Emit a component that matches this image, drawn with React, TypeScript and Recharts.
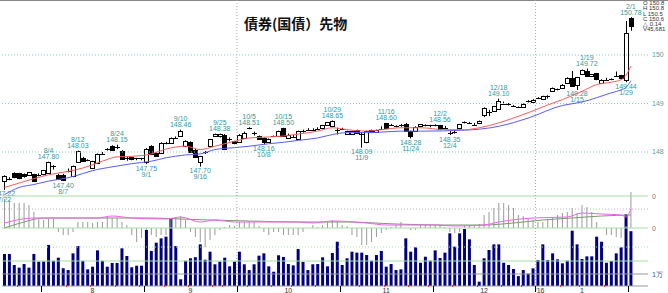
import React from 'react';
import { ComposedChart, Bar, Line, XAxis, YAxis, ReferenceLine, ReferenceDot } from 'recharts';

// trading days, 2015/07/22 .. 2016/02/01
const calendar: [number, number, number[]][] = [
  [2015, 7, [22, 23, 24, 27, 28, 29, 30, 31]],
  [2015, 8, [3, 4, 5, 6, 7, 10, 11, 12, 13, 14, 17, 18, 19, 20, 21, 24, 25, 26, 27, 28, 31]],
  [2015, 9, [1, 2, 3, 4, 7, 8, 9, 10, 11, 14, 15, 16, 17, 18, 24, 25, 28, 29, 30]],
  [2015, 10, [1, 2, 5, 6, 7, 8, 9, 13, 14, 15, 16, 19, 20, 21, 22, 23, 26, 27, 28, 29, 30]],
  [2015, 11, [2, 4, 5, 6, 9, 10, 11, 12, 13, 16, 17, 18, 19, 20, 24, 25, 26, 27, 30]],
  [2015, 12, [1, 2, 3, 4, 7, 8, 9, 10, 11, 14, 15, 16, 17, 18, 21, 22, 24, 25, 28, 29, 30]],
  [2016, 1, [4, 5, 6, 7, 8, 12, 13, 14, 15, 18, 19, 20, 21, 22, 25, 26, 27, 28, 29]],
  [2016, 2, [1]],
];
const monthLabels: Record<number, string> = { 8: '8', 9: '9', 10: '10', 11: '11', 12: '12', 1: '1' };
const yearLabel = "'16";

const opens = [
  147.40, 147.45, 147.56, 147.56, 147.54, 147.52, 147.54, 147.53, 147.54, 147.56,
  147.71, 147.52, 147.53, 147.60, 147.50, 147.80, 147.88, 147.83, 147.67, 147.78,
  147.95, 148.06, 148.13, 148.10, 148.02, 147.88, 147.89, 147.87, 147.87, 147.79,
  148.12, 147.97, 147.98, 148.19, 148.19, 148.28, 148.32, 148.12, 148.20, 148.05,
  147.79, 147.99, 148.12, 148.33, 148.33, 148.36, 148.27, 148.22, 148.22, 148.29,
  148.50, 148.39, 148.33, 148.29, 148.20, 148.32, 148.33, 148.49, 148.30, 148.31,
  148.27, 148.44, 148.46, 148.46, 148.48, 148.48, 148.55, 148.53, 148.46, 148.48,
  148.36, 148.36, 148.45, 148.38, 148.20, 148.45, 148.40, 148.48, 148.59, 148.55,
  148.53, 148.55, 148.57, 148.43, 148.43, 148.52, 148.55, 148.55, 148.55, 148.55,
  148.50, 148.40, 148.42, 148.48, 148.60, 148.60, 148.56, 148.60, 148.77, 148.83,
  148.84, 148.89, 149.00, 149.00, 148.95, 148.93, 148.93, 149.05, 149.03, 149.10,
  149.08, 149.15, 149.25, 149.30, 149.32, 149.43, 149.53, 149.37, 149.60, 149.68,
  149.56, 149.62, 149.43, 149.49, 149.50, 149.56, 149.58, 149.50, 150.76,
];
const highs = [
  147.52, 147.48, 147.58, 147.57, 147.56, 147.59, 147.55, 147.56, 147.63, 147.80,
  147.73, 147.55, 147.55, 147.66, 147.72, 148.03, 147.90, 147.85, 147.82, 147.97,
  148.00, 148.08, 148.14, 148.15, 148.04, 147.90, 147.90, 147.88, 147.88, 148.08,
  148.14, 147.99, 148.20, 148.21, 148.30, 148.32, 148.46, 148.24, 148.22, 148.07,
  147.92, 148.02, 148.27, 148.38, 148.38, 148.37, 148.30, 148.23, 148.37, 148.42,
  148.51, 148.42, 148.34, 148.30, 148.28, 148.34, 148.44, 148.50, 148.38, 148.35,
  148.44, 148.46, 148.49, 148.49, 148.51, 148.56, 148.62, 148.65, 148.50, 148.50,
  148.44, 148.44, 148.46, 148.41, 148.44, 148.46, 148.46, 148.53, 148.60, 148.58,
  148.55, 148.58, 148.60, 148.44, 148.53, 148.55, 148.57, 148.56, 148.57, 148.56,
  148.54, 148.44, 148.45, 148.58, 148.63, 148.62, 148.60, 148.65, 148.92, 148.87,
  148.95, 149.10, 149.04, 149.01, 148.97, 148.94, 149.00, 149.07, 149.09, 149.13,
  149.16, 149.17, 149.33, 149.31, 149.40, 149.54, 149.67, 149.55, 149.70, 149.72,
  149.61, 149.63, 149.50, 149.53, 149.52, 149.66, 149.59, 150.70, 150.78,
];
const lows = [
  147.22, 147.42, 147.46, 147.44, 147.47, 147.51, 147.38, 147.50, 147.52, 147.55,
  147.64, 147.42, 147.40, 147.58, 147.48, 147.79, 147.80, 147.81, 147.66, 147.76,
  147.94, 148.03, 148.04, 148.06, 147.84, 147.82, 147.83, 147.83, 147.83, 147.75,
  147.94, 147.90, 147.97, 148.16, 148.18, 148.27, 148.31, 148.10, 147.98, 147.89,
  147.70, 147.96, 148.11, 148.32, 148.30, 148.07, 148.22, 148.16, 148.21, 148.28,
  148.47, 148.34, 148.25, 148.16, 148.19, 148.31, 148.32, 148.32, 148.29, 148.30,
  148.26, 148.40, 148.45, 148.43, 148.47, 148.47, 148.54, 148.52, 148.36, 148.46,
  148.35, 148.35, 148.37, 148.09, 148.18, 148.39, 148.39, 148.47, 148.47, 148.54,
  148.51, 148.52, 148.42, 148.28, 148.42, 148.51, 148.53, 148.51, 148.53, 148.45,
  148.49, 148.35, 148.38, 148.47, 148.59, 148.58, 148.55, 148.59, 148.72, 148.74,
  148.83, 148.87, 148.99, 148.96, 148.93, 148.92, 148.92, 149.02, 149.02, 149.09,
  149.07, 149.10, 149.24, 149.27, 149.31, 149.42, 149.36, 149.28, 149.59, 149.57,
  149.55, 149.48, 149.40, 149.48, 149.48, 149.55, 149.50, 149.44, 150.50,
];
const closes = [
  147.50, 147.45, 147.47, 147.45, 147.49, 147.58, 147.40, 147.53, 147.62, 147.79,
  147.71, 147.43, 147.43, 147.61, 147.71, 148.02, 147.81, 147.83, 147.81, 147.96,
  147.95, 148.06, 148.05, 148.10, 147.85, 147.88, 147.84, 147.84, 147.85, 148.06,
  147.96, 147.91, 148.19, 148.19, 148.29, 148.28, 148.43, 148.22, 147.99, 147.90,
  147.91, 147.99, 148.26, 148.37, 148.37, 148.08, 148.27, 148.17, 148.36, 148.40,
  148.49, 148.39, 148.26, 148.20, 148.27, 148.32, 148.43, 148.33, 148.36, 148.31,
  148.43, 148.44, 148.46, 148.46, 148.48, 148.55, 148.61, 148.64, 148.46, 148.48,
  148.43, 148.43, 148.38, 148.38, 148.43, 148.40, 148.45, 148.48, 148.48, 148.55,
  148.53, 148.55, 148.43, 148.33, 148.52, 148.57, 148.55, 148.52, 148.55, 148.46,
  148.50, 148.40, 148.42, 148.57, 148.62, 148.60, 148.56, 148.64, 148.91, 148.83,
  148.94, 149.05, 149.00, 148.97, 148.95, 148.93, 148.99, 149.05, 149.08, 149.12,
  149.15, 149.15, 149.32, 149.28, 149.39, 149.53, 149.37, 149.54, 149.69, 149.58,
  149.60, 149.49, 149.49, 149.49, 149.50, 149.56, 149.51, 150.46, 150.60,
];
// volume, thousands of contracts
const volumes = [
  26.7, 26.7, 17.5, 15.3, 18.3, 15.3, 26.7, 20.3, 20.5, 34.2,
  21.0, 23.6, 14.7, 13.3, 27.2, 33.3, 21.0, 13.9, 16.1, 29.7,
  21.0, 16.1, 19.2, 19.2, 31.4, 25.0, 15.6, 16.9, 16.9, 46.7,
  29.2, 36.1, 39.7, 41.1, 56.4, 33.3, 5.6, 21.0, 23.1, 24.0,
  34.7, 21.9, 28.6, 18.1, 20.3, 23.6, 16.4, 20.3, 28.6, 18.1,
  13.3, 18.1, 25.3, 27.2, 16.4, 11.9, 25.6, 24.2, 18.3, 17.2,
  30.8, 20.0, 13.3, 18.1, 18.3, 23.9, 16.4, 27.5, 36.9, 17.5,
  23.1, 28.6, 27.8, 27.8, 25.8, 21.1, 25.8, 29.2, 16.1, 18.3,
  13.3, 13.9, 39.7, 28.6, 32.2, 19.4, 24.4, 21.1, 29.7, 23.3,
  27.8, 43.9, 32.8, 43.9, 47.5, 38.9, 17.5, 3.6, 23.1, 30.0,
  34.7, 34.7, 19.4, 17.5, 14.2, 8.3, 13.3, 10.3, 14.7, 21.7,
  34.7, 21.7, 27.2, 22.2, 18.9, 21.1, 46.1, 34.7, 22.5, 24.7,
  24.7, 41.1, 36.9, 19.4, 20.8, 27.2, 32.2, 59.7, 45.681,
];
// oscillator histogram
const histogram = [
  0.29, 0.28, 0.25, 0.25, 0.25, 0.23, 0.16, 0.09, 0.08, 0.09,
  0.09, -0.04, -0.07, -0.07, -0.04, 0.06, 0.06, 0.06, 0.05, 0.06,
  0.06, 0.11, 0.10, 0.10, 0.06, 0.03, -0.07, -0.14, -0.10, -0.02,
  -0.07, -0.09, -0.07, -0.07, 0.10, 0.10, 0.12, 0.08, -0.04, -0.09,
  -0.14, -0.19, -0.12, -0.07, -0.02, 0.01, 0.03, 0.02, 0.06, 0.06,
  0.06, 0.06, 0.02, -0.04, -0.07, -0.04, -0.04, -0.07, -0.07, -0.07,
  -0.07, -0.04, 0.00, 0.03, 0.01, 0.03, 0.06, 0.08, 0.06, 0.03,
  0.02, -0.07, -0.09, -0.17, -0.17, -0.14, -0.09, -0.05, -0.02, 0.01,
  0.03, 0.06, 0.00, -0.02, -0.02, 0.03, 0.03, 0.03, 0.03, 0.03,
  0.01, -0.04, -0.05, -0.04, 0.02, 0.03, 0.03, 0.04, 0.13, 0.16,
  0.20, 0.25, 0.25, 0.23, 0.20, 0.13, 0.12, 0.10, 0.08, 0.06,
  0.06, 0.09, 0.11, 0.13, 0.15, 0.16, 0.20, 0.15, 0.23, 0.21,
  0.16, 0.06, 0.00, -0.07, -0.07, -0.09, -0.10, 0.02, 0.36,
];
// moving averages, read at [bar, value]
const maShort: [number, number][] = [
  [0, 147.27], [3, 147.36], [6, 147.45], [9, 147.53], [13, 147.60], [16, 147.67], [20, 147.81],
  [23, 147.90], [26, 147.91], [30, 147.96], [33, 148.06], [37, 148.12], [40, 148.05], [43, 148.12],
  [47, 148.22], [50, 148.29], [54, 148.31], [57, 148.33], [60, 148.37], [64, 148.43], [67, 148.50],
  [70, 148.46], [74, 148.43], [77, 148.46], [81, 148.50], [85, 148.50], [90, 148.46], [94, 148.46],
  [97, 148.50], [101, 148.60], [104, 148.70], [107, 148.81], [111, 148.97], [114, 149.08],
  [118, 149.25], [121, 149.39], [124, 149.44], [126, 149.49], [127, 149.58], [128, 149.77],
];
const maLong: [number, number][] = [
  [0, 147.12], [3, 147.27], [6, 147.33], [9, 147.40], [13, 147.47], [19, 147.64], [23, 147.71],
  [26, 147.76], [30, 147.81], [33, 147.88], [37, 147.94], [40, 147.96], [43, 148.05], [47, 148.09],
  [50, 148.12], [54, 148.17], [57, 148.20], [60, 148.24], [64, 148.29], [67, 148.36], [70, 148.40],
  [74, 148.40], [77, 148.41], [81, 148.43], [85, 148.43], [94, 148.45], [101, 148.53], [107, 148.70],
  [114, 148.96], [118, 149.03], [121, 149.12], [124, 149.22], [126, 149.28], [127, 149.33], [128, 149.47],
];
const oscLine: [number, number][] = [
  [0, 0.05], [6, 0.10], [19, 0.10], [22, 0.12], [26, 0.10], [33, 0.09], [36, 0.11], [40, 0.06],
  [43, 0.08], [47, 0.06], [54, 0.06], [60, 0.06], [63, 0.05], [67, 0.07], [74, 0.05], [78, 0.03],
  [81, 0.03], [88, 0.03], [92, 0.02], [98, 0.03], [101, 0.06], [108, 0.10], [115, 0.11], [118, 0.15],
  [122, 0.14], [126, 0.13], [127, 0.11], [128, 0.19],
];
const oscSignal: [number, number][] = [
  [0, 0.0], [4, 0.06], [8, 0.10], [15, 0.10], [22, 0.10], [30, 0.10], [36, 0.09], [42, 0.08],
  [50, 0.07], [60, 0.06], [70, 0.06], [80, 0.04], [90, 0.03], [98, 0.03], [104, 0.05], [110, 0.08],
  [116, 0.10], [122, 0.12], [128, 0.13],
];
// highs / lows marked on the chart
const marks: [number, number, string, 'hi' | 'lo'][] = [
  [0, 147.22, '7/22', 'lo'], [9, 147.80, '8/4', 'hi'], [12, 147.40, '8/7', 'lo'],
  [15, 148.03, '8/12', 'hi'], [23, 148.15, '8/24', 'hi'], [29, 147.75, '9/1', 'lo'],
  [36, 148.46, '9/10', 'hi'], [40, 147.70, '9/16', 'lo'], [44, 148.38, '9/25', 'hi'],
  [50, 148.51, '10/5', 'hi'], [53, 148.16, '10/8', 'lo'], [57, 148.50, '10/15', 'hi'],
  [67, 148.65, '10/29', 'hi'], [73, 148.09, '11/9', 'lo'], [78, 148.60, '11/16', 'hi'],
  [83, 148.28, '11/24', 'lo'], [89, 148.56, '12/2', 'hi'], [91, 148.35, '12/4', 'lo'],
  [101, 149.10, '12/18', 'hi'], [117, 149.28, '1/15', 'lo'], [119, 149.72, '1/19', 'hi'],
  [127, 149.44, '1/29', 'lo'], [128, 150.78, '2/1', 'hi'],
];
const priceTicks = [148, 149, 150];
const lastInfo = ['O 150.8', 'H 150.8', 'L 150.5', 'C 150.6', '△ 0.14', 'V45,681'];

const W = 668;
const H = 293;
const TEAL = '#339999';
const FONT = '"Liberation Sans", Arial, sans-serif';

const days: { y: number; m: number; d: number }[] = [];
calendar.forEach(([y, m, ds]) => ds.forEach((d) => days.push({ y, m, d })));
const N = days.length;

const shortMap = new Map(maShort);
const longMap = new Map(maLong);
const oscMap = new Map(oscLine);
const sigMap = new Map(oscSignal);

const monthRange: Record<string, number[]> = {};
days.forEach((dd, i) => {
  const key = `${dd.y}-${dd.m}`;
  (monthRange[key] = monthRange[key] || []).push(i);
});

// 3 empty slots on the right so the grid runs on past the last bar
const rows = Array.from({ length: N + 3 }, (_, i) => {
  if (i >= N) return { i };
  const dd = days[i];
  const prev = days[i - 1];
  const t = new Date(dd.y, dd.m - 1, dd.d);
  let weekStart = false;
  if (prev) {
    const tp = new Date(prev.y, prev.m - 1, prev.d);
    weekStart = t.getDay() <= tp.getDay() || (t.getTime() - tp.getTime()) / 864e5 >= 7;
  }
  const idxs = monthRange[`${dd.y}-${dd.m}`];
  const mid = idxs[Math.floor(idxs.length / 2)];
  return {
    i,
    o: opens[i],
    h: highs[i],
    l: lows[i],
    c: closes[i],
    vol: volumes[i],
    hist: histogram[i],
    maS: shortMap.get(i) ?? null,
    maL: longMap.get(i) ?? null,
    osc: oscMap.get(i) ?? null,
    sig: sigMap.get(i) ?? null,
    monthStart: !!prev && prev.m !== dd.m,
    weekStart,
    label: i === mid && monthLabels[dd.m] ? monthLabels[dd.m] : '',
    yearMark: dd.m === 1 && idxs[0] === i,
  };
});

const Candle = (p: any) => {
  const { x, y, width, height, payload } = p;
  if (!payload || payload.o == null || !isFinite(y) || !isFinite(height)) return null;
  const { o, h, l, c } = payload;
  const k = height / (h - l);
  const cx = Math.round(x + width / 2) + 0.5;
  const yo = y + (h - o) * k;
  const yc = y + (h - c) * k;
  const top = Math.min(yo, yc);
  const bot = Math.max(yo, yc);
  const ty = Math.round(top) + 0.5;
  return (
    <g>
      <line x1={cx} x2={cx} y1={y} y2={y + height} stroke="#000" strokeWidth={1} />
      {bot - top < 1.5 ? (
        <line x1={cx - 2.5} x2={cx + 2.5} y1={ty} y2={ty} stroke="#000" strokeWidth={1} />
      ) : (
        <rect x={cx - 2} y={ty} width={4} height={Math.max(1, Math.round(bot - top))} fill={c >= o ? '#fff' : '#000'} stroke="#000" strokeWidth={1} />
      )}
    </g>
  );
};

const Mark = ({ cx, cy, date, price, side }: any) => {
  if (!isFinite(cx) || !isFinite(cy)) return null;
  const lines = side === 'hi' ? [date, price.toFixed(2)] : [price.toFixed(2), date];
  const base = side === 'hi' ? cy - 8.5 : cy + 6.5;
  return (
    <g>
      {lines.map((t, k) => (
        <text key={k} x={cx} y={base + k * 6} textAnchor="middle" fontSize={7} fill={TEAL} fontFamily={FONT}>
          {t}
        </text>
      ))}
    </g>
  );
};

const AxisTick = (p: any) => {
  const { x, y, payload, width, visibleTicksCount } = p;
  const r = rows[payload.value] as any;
  if (!r || r.o == null) return null;
  const bw = width / visibleTicksCount;
  const left = Math.round(x - bw / 2) + 0.5;
  return (
    <g>
      {r.monthStart && <line x1={left} x2={left} y1={y} y2={y + 6} stroke="#000" />}
      {!r.monthStart && r.weekStart && <line x1={left} x2={left} y1={y - 1} y2={y + 1} stroke="#e03030" />}
      {r.label && (
        <text x={x} y={y + 7} textAnchor="middle" fontSize={7} fill="#333" fontFamily={FONT}>
          {r.label}
        </text>
      )}
      {r.yearMark && (
        <text x={x + 2} y={y + 7} textAnchor="middle" fontSize={7} fill="#333" fontFamily={FONT}>
          {yearLabel}
        </text>
      )}
    </g>
  );
};

const OscTick = (p: any) => {
  const { x, y, payload } = p;
  const v = payload.value;
  const txt = v < -0.4 ? '1万' : v < 0 ? '-0' : '0';
  return (
    <text x={x} y={y + 2.5} fontSize={7} fill={v < -0.4 ? '#3355aa' : '#777'} fontFamily={FONT}>
      {txt}
    </text>
  );
};

const layer: React.CSSProperties = { position: 'absolute', left: 0, top: 0 };
const MARGIN_L = 2;
const AXIS_W = 20;

export default function App() {
  return (
    <div style={{ position: 'absolute', left: 0, top: 0, width: W, height: H, background: '#fff', overflow: 'hidden' }}>
      <div style={{ ...layer, width: W, height: 1, background: '#888' }} />
      {/* price panel */}
      <div style={layer}>
        <ComposedChart width={W} height={H} data={rows} margin={{ top: 0, right: 0, bottom: 97, left: MARGIN_L }}>
          <XAxis dataKey="i" type="category" hide />
          <YAxis
            orientation="right"
            width={AXIS_W}
            domain={[147.093, 151.134]}
            allowDataOverflow
            ticks={priceTicks}
            tickLine={false}
            axisLine={false}
            tickSize={2}
            tick={{ fontSize: 7, fill: '#5a9e9e', fontFamily: FONT }}
          />
          {priceTicks.map((t) => (
            <ReferenceLine key={t} y={t} stroke="#8fc7c7" strokeDasharray="1 2" />
          ))}
          <ReferenceLine x={48} position="start" stroke="#aaa" strokeDasharray="1 2" />
          <ReferenceLine x={109} position="start" stroke="#aaa" strokeDasharray="1 2" />
          <Line dataKey="maL" stroke="#5a5aff" strokeWidth={1} dot={false} connectNulls type="monotone" isAnimationActive={false} />
          <Line dataKey="maS" stroke="#ff5a5a" strokeWidth={1} dot={false} connectNulls type="monotone" isAnimationActive={false} />
          <Bar dataKey={(d: any) => (d.o == null ? null : [d.l, d.h])} shape={<Candle />} barSize={5} isAnimationActive={false} />
          {marks.map(([i, v, date, side]) => (
            <ReferenceDot key={i} x={i} y={v} r={0} ifOverflow="visible" shape={(p: any) => <Mark {...p} date={date} price={v} side={side} />} />
          ))}
        </ComposedChart>
      </div>
      {/* volume panel */}
      <div style={layer}>
        <ComposedChart width={W} height={H} data={rows} margin={{ top: 180, right: 0, bottom: 0, left: MARGIN_L }}>
          <XAxis dataKey="i" type="category" interval={0} height={7} tickLine={false} tickSize={0} tickMargin={0} axisLine={{ stroke: '#999' }} tick={<AxisTick />} />
          <YAxis orientation="right" width={AXIS_W} domain={[0, 88.33]} tick={false} tickLine={false} axisLine={false} />
          <Bar dataKey="vol" fill="#000080" barSize={3} isAnimationActive={false} />
        </ComposedChart>
      </div>
      {/* oscillator panel */}
      <div style={layer}>
        <ComposedChart width={W} height={H} data={rows} margin={{ top: 180, right: 0, bottom: 7, left: MARGIN_L }}>
          <XAxis dataKey="i" type="category" hide />
          <YAxis
            orientation="right"
            width={AXIS_W}
            domain={[-0.58, 0.48]}
            allowDataOverflow
            ticks={[0.32, 0, -0.33, -0.46]}
            tickLine={false}
            axisLine={false}
            tickSize={2}
            tick={<OscTick />}
          />
          <ReferenceLine y={0.32} stroke="#a6dca6" />
          <ReferenceLine y={0.19} stroke="#b5b5b5" strokeDasharray="1 2" />
          <ReferenceLine y={0} stroke="#a6dca6" />
          <ReferenceLine y={-0.19} stroke="#a6dca6" strokeDasharray="1 2" />
          <ReferenceLine y={-0.33} stroke="#a6dca6" />
          <ReferenceLine y={-0.46} stroke="#999" />
          <ReferenceLine x={48} position="start" stroke="#aaa" strokeDasharray="1 2" />
          <ReferenceLine x={109} position="start" stroke="#aaa" strokeDasharray="1 2" />
          <Bar dataKey="hist" fill="#9a9a9a" barSize={1} isAnimationActive={false} />
          <Line dataKey="sig" stroke="#7a9a6a" strokeWidth={1} dot={false} connectNulls type="monotone" isAnimationActive={false} />
          <Line dataKey="osc" stroke="#f060f0" strokeWidth={1} dot={false} connectNulls type="monotone" isAnimationActive={false} />
        </ComposedChart>
      </div>
      <div style={{ ...layer, left: 244, top: 13, fontSize: 14, fontWeight: 'bold', color: '#111', fontFamily: '"Noto Sans CJK JP", sans-serif', whiteSpace: 'nowrap' }}>
        債券(国債）先物
      </div>
      <div style={{ ...layer, left: 643, top: 1, fontSize: 6, lineHeight: '5.3px', color: '#333', fontFamily: FONT, whiteSpace: 'pre' }}>
        {lastInfo.join('\n')}
      </div>
    </div>
  );
}
